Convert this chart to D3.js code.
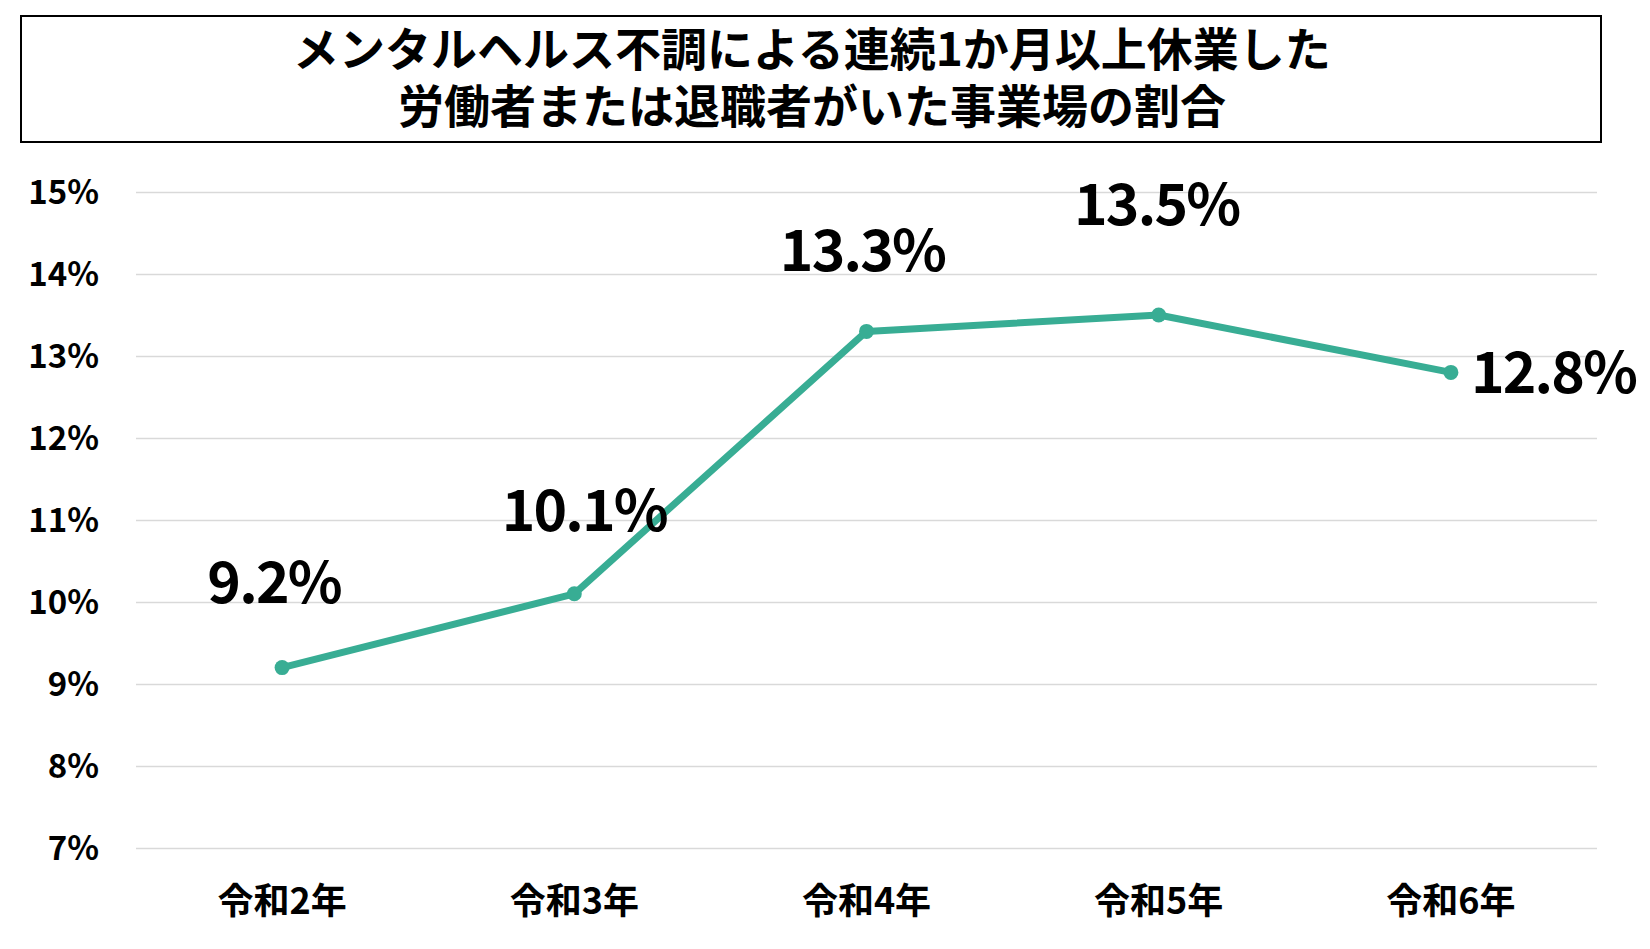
<!DOCTYPE html>
<html>
<head>
<meta charset="utf-8">
<script src="https://cdn.jsdelivr.net/npm/d3@7"></script>
<style>
  body { margin: 0; background: #fff; }
  text { font-family: "Noto Sans CJK JP", "Noto Sans", sans-serif; }
</style>
</head>
<body>
<svg width="1650" height="949"></svg>
<script>
var titleLines = ["メンタルヘルス不調による連続1か月以上休業した", "労働者または退職者がいた事業場の割合"];
var years = ["令和2年", "令和3年", "令和4年", "令和5年", "令和6年"];
var rates = [9.2, 10.1, 13.3, 13.5, 12.8];
var yTicks = [7, 8, 9, 10, 11, 12, 13, 14, 15];

// where each value label sits relative to its point
var labelSide = ["above", "above", "above", "above", "right"];
var labelLift = [65, 63, 60, 90, 0];
var labelShift = [-8, 10, -4, -2, 0];

var svg = d3.select("svg"),
    width = +svg.attr("width"),
    height = +svg.attr("height");

var margin = {left: 136, right: 53, top: 192, bottom: 101};
var teal = "#38ad94";

// title box
svg.append("rect")
    .attr("x", 21).attr("y", 16)
    .attr("width", 1580).attr("height", 126)
    .attr("fill", "#fff")
    .attr("stroke", "#000")
    .attr("stroke-width", 2);

// one text, two lines
svg.append("text")
    .attr("y", 66)
    .attr("text-anchor", "middle")
    .attr("font-size", 46)
    .attr("font-weight", "bold")
  .selectAll("tspan")
    .data(titleLines)
  .enter().append("tspan")
    .attr("x", 812)
    .attr("dy", function(d, i) { return i ? 57 : 0; })
    .text(function(d) { return d; });

var x = d3.scaleBand()
    .domain(years)
    .range([margin.left, width - margin.right]);

var y = d3.scaleLinear()
    .domain([7, 15])
    .range([height - margin.bottom, margin.top]);

// gridlines + y labels
var yAxis = svg.append("g")
    .attr("transform", "translate(" + margin.left + ",0)")
    .call(d3.axisLeft(y)
        .tickValues(yTicks)
        .tickSize(-(width - margin.left - margin.right))
        .tickPadding(37)
        .tickFormat(function(d) { return d + "%"; }));
yAxis.select(".domain").remove();
yAxis.selectAll(".tick line").attr("stroke", "#d9d9d9").attr("stroke-width", 1.5);
yAxis.selectAll(".tick text")
    .attr("font-size", 33)
    .attr("font-weight", "bold")
    .attr("fill", "#000")
    .attr("dy", "0.35em")
    .style("font-family", "'Noto Sans CJK JP', sans-serif");

// x labels
var xAxis = svg.append("g")
    .attr("transform", "translate(0," + (height - margin.bottom) + ")")
    .call(d3.axisBottom(x).tickSize(0).tickPadding(40));
xAxis.select(".domain").remove();
xAxis.selectAll(".tick text")
    .attr("font-size", 36)
    .attr("font-weight", "bold")
    .attr("fill", "#000")
    .style("font-family", "'Noto Sans CJK JP', sans-serif");

var cx = function(d, i) { return x(years[i]) + x.bandwidth() / 2; };

var line = d3.line()
    .x(cx)
    .y(function(d) { return y(d); });

svg.append("path")
    .datum(rates)
    .attr("fill", "none")
    .attr("stroke", teal)
    .attr("stroke-width", 7)
    .attr("stroke-linejoin", "round")
    .attr("d", line);

svg.append("g").selectAll("circle")
    .data(rates)
  .enter().append("circle")
    .attr("cx", cx)
    .attr("cy", function(d) { return y(d); })
    .attr("r", 7.5)
    .attr("fill", teal);

svg.append("g").selectAll("text")
    .data(rates)
  .enter().append("text")
    .attr("x", function(d, i) { return (labelSide[i] == "right" ? cx(d, i) + 20 : cx(d, i)) + labelShift[i]; })
    .attr("y", function(d, i) { return y(d) - labelLift[i]; })
    .attr("dy", function(d, i) { return labelSide[i] == "right" ? "0.36em" : 0; })
    .attr("text-anchor", function(d, i) { return labelSide[i] == "right" ? "start" : "middle"; })
    .attr("font-size", 57)
    .attr("font-weight", "bold")
    .attr("letter-spacing", -1.8)
    .attr("fill", "#000")
    .text(function(d) { return d.toFixed(1) + "%"; });
</script>
</body>
</html>
